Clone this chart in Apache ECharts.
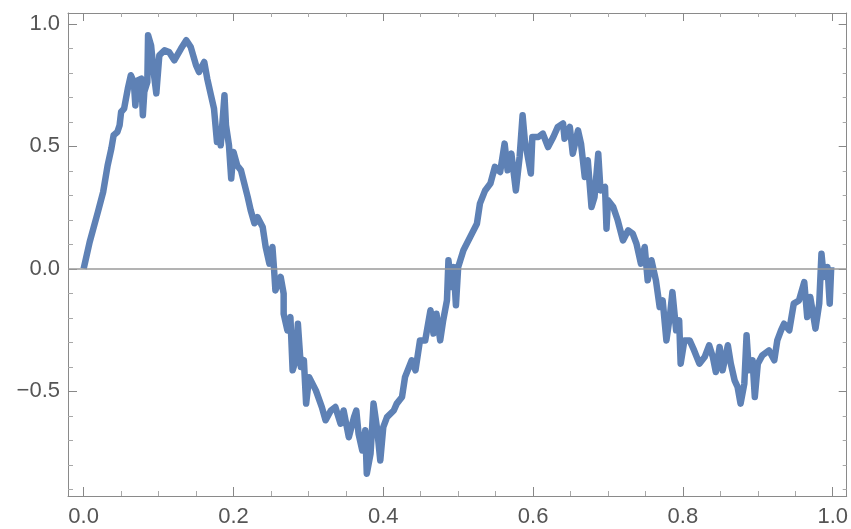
<!DOCTYPE html>
<html>
<head>
<meta charset="utf-8">
<script src="https://cdn.jsdelivr.net/npm/echarts@6/dist/echarts.min.js"></script>
<style>
html, body { margin: 0; padding: 0; background: #fff; }
#main { width: 851px; height: 529px; }
</style>
</head>
<body>
<div id="main"></div>
<script>
// path (x, y)
const xValues = [
  0.000, 0.008, 0.019, 0.026, 0.032, 0.037, 0.040, 0.045, 0.048, 0.050,
  0.054, 0.059, 0.063, 0.067, 0.069, 0.072, 0.077, 0.079, 0.081, 0.085,
  0.086, 0.090, 0.094, 0.097, 0.101, 0.108, 0.114, 0.121, 0.130, 0.137,
  0.143, 0.150, 0.154, 0.161, 0.165, 0.170, 0.174, 0.178, 0.181, 0.183,
  0.188, 0.190, 0.194, 0.197, 0.200, 0.205,
  0.210, 0.219, 0.223, 0.228, 0.232, 0.239, 0.243, 0.248, 0.252, 0.254,
  0.256, 0.263, 0.267, 0.267, 0.272, 0.276, 0.279, 0.283, 0.286, 0.290,
  0.294, 0.297, 0.301, 0.310, 0.318, 0.323, 0.330, 0.336, 0.343, 0.347,
  0.354, 0.361, 0.364, 0.367, 0.372, 0.376, 0.378, 0.383, 0.387, 0.392,
  0.396, 0.400, 0.405, 0.414, 0.418,
  0.425, 0.429, 0.438, 0.443, 0.449, 0.456, 0.463, 0.467, 0.471, 0.476,
  0.480, 0.485, 0.487, 0.491, 0.494, 0.497, 0.500, 0.507, 0.516, 0.525,
  0.529, 0.536, 0.543, 0.549, 0.556, 0.562, 0.566, 0.571, 0.577, 0.582,
  0.586, 0.589, 0.597, 0.599, 0.607, 0.613, 0.620, 0.627, 0.633, 0.640,
  0.642, 0.649, 0.653, 0.660, 0.664, 0.669, 0.673, 0.678, 0.682, 0.687,
  0.690, 0.696, 0.698, 0.700, 0.707, 0.713, 0.720, 0.727, 0.733, 0.738,
  0.744, 0.749, 0.753, 0.758, 0.762, 0.764, 0.769, 0.773, 0.778, 0.783,
  0.786, 0.791, 0.795, 0.797, 0.802, 0.809, 0.815, 0.822, 0.829, 0.835,
  0.840, 0.844, 0.849, 0.853, 0.860, 0.864, 0.869, 0.873, 0.877, 0.882,
  0.885, 0.888, 0.893, 0.896, 0.900, 0.906, 0.915, 0.922, 0.926, 0.931,
  0.935, 0.942, 0.948, 0.955, 0.962, 0.966, 0.970, 0.977, 0.982, 0.985,
  0.988, 0.993, 0.996, 0.998
];
const yValues = [
  0.000, 0.109, 0.232, 0.313, 0.422, 0.491, 0.545, 0.558, 0.586, 0.640,
  0.654, 0.736, 0.790, 0.762, 0.667, 0.769, 0.776, 0.627, 0.722, 0.762,
  0.953, 0.912, 0.790, 0.716, 0.871, 0.892, 0.885, 0.851, 0.899, 0.933,
  0.905, 0.831, 0.803, 0.844, 0.776, 0.708, 0.654, 0.518, 0.558, 0.504,
  0.708, 0.586, 0.504, 0.369, 0.477, 0.422,
  0.402, 0.293, 0.239, 0.186, 0.211, 0.171, 0.089, 0.021, 0.089, 0.007,
  -0.088, -0.033, -0.101, -0.183, -0.251, -0.197, -0.414, -0.373, -0.224, -0.401,
  -0.373, -0.550, -0.442, -0.496, -0.564, -0.618, -0.578, -0.564, -0.632, -0.578,
  -0.687, -0.605, -0.578, -0.673, -0.741, -0.659, -0.836, -0.754, -0.550, -0.659,
  -0.782, -0.646, -0.605, -0.578, -0.550,
  -0.523, -0.442, -0.373, -0.414, -0.292, -0.292, -0.169, -0.264, -0.183, -0.292,
  -0.210, -0.129, 0.035, -0.074, 0.007, -0.149, 0.007, 0.076, 0.130, 0.184,
  0.266, 0.320, 0.348, 0.416, 0.395, 0.511, 0.402, 0.470, 0.320, 0.456,
  0.627, 0.524, 0.389, 0.538, 0.538, 0.552, 0.497, 0.538, 0.579, 0.593,
  0.531, 0.579, 0.470, 0.565, 0.511, 0.375, 0.443, 0.252, 0.293, 0.470,
  0.320, 0.334, 0.164, 0.280, 0.252, 0.198, 0.116, 0.157, 0.144, 0.103,
  0.021, 0.089, -0.047, 0.035, -0.020, -0.047, -0.156, -0.129, -0.292, -0.183,
  -0.095, -0.251, -0.210, -0.387, -0.292, -0.292, -0.333, -0.387, -0.360, -0.312,
  -0.360, -0.421, -0.319, -0.414, -0.312, -0.387, -0.455, -0.482, -0.550, -0.469,
  -0.271, -0.414, -0.373, -0.523, -0.387, -0.353, -0.333, -0.373, -0.292, -0.251,
  -0.224, -0.251, -0.142, -0.129, -0.054, -0.197, -0.115, -0.244, -0.142, 0.062,
  -0.033, 0.007, -0.142, 0.007
];

const xMajorTicks = [0, 0.2, 0.4, 0.6, 0.8, 1.0];
const xMinorTicks = [0.05, 0.1, 0.15, 0.25, 0.3, 0.35, 0.45, 0.5, 0.55, 0.65, 0.7, 0.75, 0.85, 0.9, 0.95];
const yMajorTicks = [-0.5, 0, 0.5, 1.0];
const yMinorTicks = [-0.9, -0.8, -0.7, -0.6, -0.4, -0.3, -0.2, -0.1, 0.1, 0.2, 0.3, 0.4, 0.6, 0.7, 0.8, 0.9];

const xMin = -0.0209, xMax = 1.0187;
const yMin = -0.927, yMax = 1.044;

const frameColor = '#8a8a8a';
const labelColor = '#555555';

const fmt = (v) => (v < 0 ? '\u2212' : '') + Math.abs(v).toFixed(1);

// one axis = one set of ticks (major or minor) on one side of the frame
const makeAxis = (position, min, max, ticks, len, withLine, withLabel) => ({
  type: 'value',
  position: position,
  min: min,
  max: max,
  gridIndex: 0,
  splitLine: { show: false },
  axisLine: { show: withLine, onZero: false, lineStyle: { color: frameColor, width: 1 } },
  axisTick: {
    show: true,
    inside: true,
    length: len,
    customValues: ticks,
    lineStyle: { color: len > 6 ? '#888888' : '#a8a8a8', width: 1 }
  },
  axisLabel: {
    show: withLabel,
    customValues: ticks,
    formatter: fmt,
    color: labelColor,
    fontSize: 22,
    fontFamily: 'Liberation Sans, Arial, sans-serif',
    margin: (position === 'left' || position === 'right') ? 8 : 10
  }
});

const chart = echarts.init(document.getElementById('main'));

const option = {
  animation: false,
  grid: { left: 68, right: 2, top: 13, bottom: 33, containLabel: false },
  xAxis: [
    makeAxis('bottom', xMin, xMax, xMajorTicks, 9, true, true),
    makeAxis('bottom', xMin, xMax, xMinorTicks, 5, false, false),
    makeAxis('top', xMin, xMax, xMajorTicks, 8, true, false),
    makeAxis('top', xMin, xMax, xMinorTicks, 4, false, false)
  ],
  yAxis: [
    makeAxis('left', yMin, yMax, yMajorTicks, 9, true, true),
    makeAxis('left', yMin, yMax, yMinorTicks, 5, false, false),
    makeAxis('right', yMin, yMax, yMajorTicks, 8, true, false),
    makeAxis('right', yMin, yMax, yMinorTicks, 4, false, false)
  ],
  series: [
    {
      type: 'line',
      xAxisIndex: 0,
      yAxisIndex: 0,
      data: xValues.map((x, i) => [x, yValues[i]]),
      showSymbol: false,
      symbol: 'none',
      lineStyle: { color: '#5E81B5', width: 6.5, join: 'round' },
      z: 2,
      markLine: {
        silent: true,
        symbol: 'none',
        label: { show: false },
        lineStyle: { color: '#9a9a9a', width: 1.5, type: 'solid' },
        data: [{ yAxis: 0 }]
      }
    }
  ]
};

chart.setOption(option);
</script>
</body>
</html>
